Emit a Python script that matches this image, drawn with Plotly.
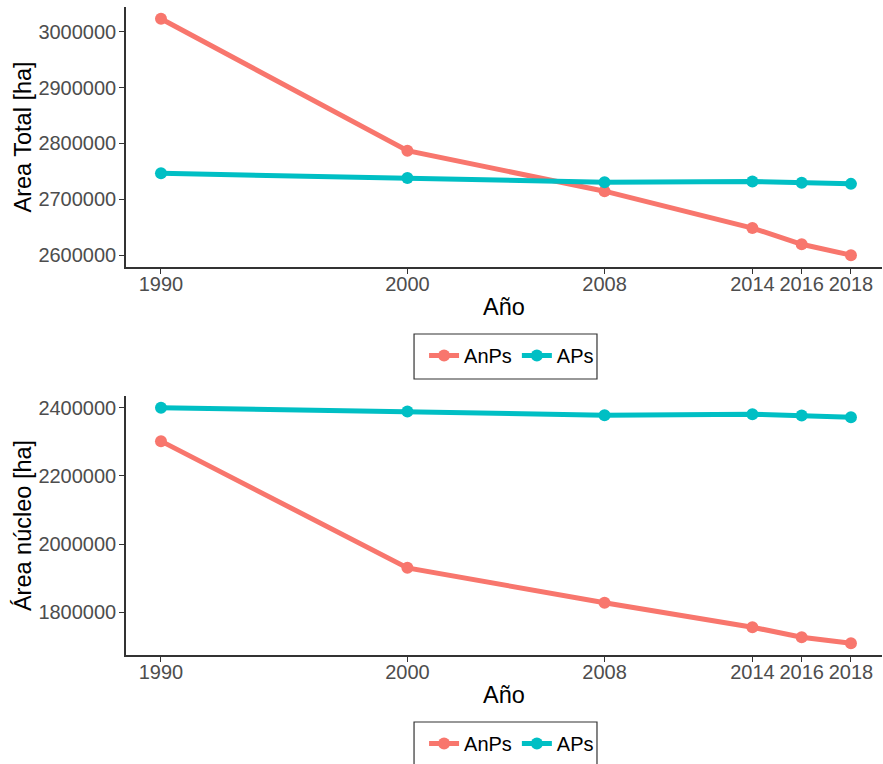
import plotly.graph_objects as go

# Years and series values
years = [1990, 2000, 2008, 2014, 2016, 2018]
total_anps = [3023000, 2787000, 2714500, 2648500, 2619500, 2600000]
total_aps = [2746500, 2738000, 2730500, 2731800, 2729400, 2727600]
core_anps = [2302000, 1930000, 1827300, 1755700, 1726300, 1708700]
core_aps = [2400000, 2389000, 2378300, 2381200, 2377400, 2372400]

series_names = ["AnPs", "APs"]
series_colors = ["#F8766D", "#00BFC4"]

top_yticks = [2600000, 2700000, 2800000, 2900000, 3000000]
bottom_yticks = [1800000, 2000000, 2200000, 2400000]

W, H = 883, 764
FONT = "Liberation Sans, Arial, sans-serif"
TICK_COLOR = "#4D4D4D"

fig = go.Figure()

panels = [
    ("x", "y", "legend", [total_anps, total_aps]),
    ("x2", "y2", "legend2", [core_anps, core_aps]),
]
for xa, ya, leg, data in panels:
    for name, color, vals in zip(series_names, series_colors, data):
        fig.add_trace(go.Scatter(
            x=years, y=vals, name=name, mode="lines+markers",
            line=dict(color=color, width=5),
            marker=dict(color=color, size=12),
            xaxis=xa, yaxis=ya, legend=leg, showlegend=True,
        ))


def y_range(vals):
    lo, hi = min(vals), max(vals)
    pad = (hi - lo) * 0.05
    return [lo - pad, hi + pad]


axis_common = dict(
    showline=True, linecolor="#333333", linewidth=1.5,
    ticks="outside", ticklen=5, tickwidth=1.2, tickcolor="#333333",
    showgrid=False, zeroline=False,
    tickfont=dict(family=FONT, size=20, color=TICK_COLOR),
    title_font=dict(family=FONT, size=23.5, color="black"),
)
x_common = dict(axis_common, ticklabelstandoff=-7)
y_common = dict(axis_common, ticklabelstandoff=-1)

xrange_ = [1988.58, 2019.26]

# Legend frames drawn as paper-anchored rectangles
legend_frames = [
    dict(type="rect", xref="paper", yref="paper",
         x0=0.381, x1=0.623, y0=0.4259, y1=0.4954,
         line=dict(color="#333333", width=1.2), fillcolor="rgba(0,0,0,0)"),
    dict(type="rect", xref="paper", yref="paper",
         x0=0.381, x1=0.623, y0=-0.1728, y1=-0.1034,
         line=dict(color="#333333", width=1.2), fillcolor="rgba(0,0,0,0)"),
]

legend_font = dict(family=FONT, size=20, color="black")

fig.update_layout(
    width=W, height=H,
    margin=dict(l=126, r=1, t=7, b=109),
    plot_bgcolor="white", paper_bgcolor="white",
    font=dict(family=FONT),
    shapes=legend_frames,
    xaxis=dict(domain=[0, 1], range=xrange_, anchor="y", tickvals=years,
               title=dict(text="Año", standoff=5), **x_common),
    yaxis=dict(domain=[0.5988, 1], range=y_range(total_anps + total_aps),
               anchor="x", tickvals=top_yticks, tickformat="d",
               title=dict(text="Area Total [ha]", standoff=0), **y_common),
    xaxis2=dict(domain=[0, 1], range=xrange_, anchor="y2", tickvals=years,
                title=dict(text="Año", standoff=5), **x_common),
    yaxis2=dict(domain=[0, 0.3997], range=y_range(core_anps + core_aps),
                anchor="x2", tickvals=bottom_yticks, tickformat="d",
                title=dict(text="Área núcleo [ha]", standoff=0), **y_common),
    legend=dict(orientation="h", x=0.51, y=0.4923, xanchor="center", yanchor="top",
                borderwidth=0, bgcolor="rgba(0,0,0,0)", font=legend_font),
    legend2=dict(orientation="h", x=0.51, y=-0.1065, xanchor="center", yanchor="top",
                 borderwidth=0, bgcolor="rgba(0,0,0,0)", font=legend_font),
)

fig.write_html("out.html")
